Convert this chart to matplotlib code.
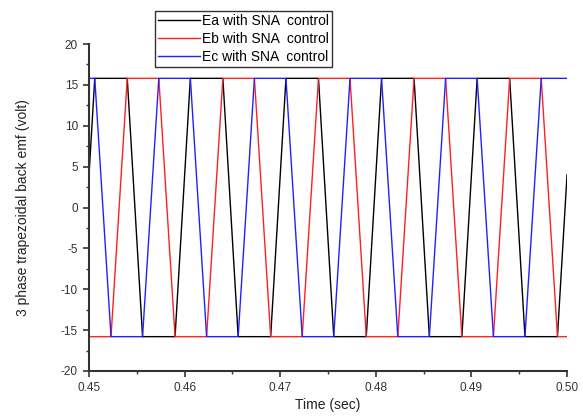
import matplotlib
matplotlib.use('Agg')
import matplotlib.pyplot as plt
from matplotlib.ticker import MultipleLocator, FormatStrFormatter

plt.rcParams['font.family'] = ['Liberation Sans', 'DejaVu Sans']
plt.rcParams['axes.unicode_minus'] = False

# ── Data: corner points of the three trapezoidal back emf waveforms ─────────
t_a = [0.4500, 0.4506, 0.4540, 0.4556, 0.4590, 0.4606, 0.4640, 0.4656, 0.4690,
       0.4706, 0.4740, 0.4756, 0.4790, 0.4806, 0.4840, 0.4856, 0.4890, 0.4906,
       0.4940, 0.4956, 0.4990, 0.5000]
e_a = [4.0, 15.8, 15.8, -15.8, -15.8, 15.8, 15.8, -15.8, -15.8,
       15.8, 15.8, -15.8, -15.8, 15.8, 15.8, -15.8, -15.8, 15.8,
       15.8, -15.8, -15.8, 4.0]

t_b = [0.4500, 0.4523, 0.4540, 0.4573, 0.4590, 0.4623, 0.4640, 0.4673, 0.4690,
       0.4723, 0.4740, 0.4773, 0.4790, 0.4823, 0.4840, 0.4873, 0.4890, 0.4923,
       0.4940, 0.4973, 0.4990, 0.5000]
e_b = [-15.8, -15.8, 15.8, 15.8, -15.8, -15.8, 15.8, 15.8, -15.8,
       -15.8, 15.8, 15.8, -15.8, -15.8, 15.8, 15.8, -15.8, -15.8,
       15.8, 15.8, -15.8, -15.8]

t_c = [0.4500, 0.4506, 0.4523, 0.4556, 0.4573, 0.4606, 0.4623, 0.4656, 0.4673,
       0.4706, 0.4723, 0.4756, 0.4773, 0.4806, 0.4823, 0.4856, 0.4873, 0.4906,
       0.4923, 0.4956, 0.4973, 0.5000]
e_c = [15.8, 15.8, -15.8, -15.8, 15.8, 15.8, -15.8, -15.8, 15.8,
       15.8, -15.8, -15.8, 15.8, 15.8, -15.8, -15.8, 15.8, 15.8,
       -15.8, -15.8, 15.8, 15.8]

labels = ['Ea with SNA  control', 'Eb with SNA  control', 'Ec with SNA  control']
colors = ['black', '#ff2020', '#2020ff']

# ── Figure ───────────────────────────────────────────────────────────────────
fig = plt.figure(figsize=(5.83, 4.16), dpi=100)
ax = fig.add_axes([0.1527, 0.1082, 0.8199, 0.786])

for t, e, lab, col in zip([t_a, t_b, t_c], [e_a, e_b, e_c], labels, colors):
    ax.plot(t, e, color=col, lw=1.0, label=lab)

ax.set_xlim(0.45, 0.50)
ax.set_ylim(-20, 20)
ax.xaxis.set_major_locator(MultipleLocator(0.01))
ax.xaxis.set_minor_locator(MultipleLocator(0.005))
ax.xaxis.set_major_formatter(FormatStrFormatter('%.2f'))
ax.yaxis.set_major_locator(MultipleLocator(5))
ax.yaxis.set_minor_locator(MultipleLocator(2.5))

for side in ['top', 'right']:
    ax.spines[side].set_visible(False)
for side in ['left', 'bottom']:
    ax.spines[side].set_linewidth(1.5)
    ax.spines[side].set_color('#333333')

ax.tick_params(which='major', direction='out', length=4, width=1.2,
               colors='#333333', labelsize=8.5, pad=4)
ax.tick_params(which='minor', direction='out', length=2.5, width=1.0,
               colors='#333333')

ax.set_xlabel('Time (sec)', fontsize=10, color='#222222', labelpad=3)
ax.set_ylabel('3 phase trapezoidal back emf (volt)', fontsize=10,
              color='#222222', labelpad=22)

leg = fig.legend(loc='upper left', bbox_to_anchor=(0.266, 0.974),
                 fontsize=10, frameon=True, fancybox=False, handlelength=3.0,
                 handletextpad=0.2, borderpad=0.2, labelspacing=0.3,
                 borderaxespad=0)
leg.get_frame().set_edgecolor('black')
leg.get_frame().set_linewidth(1.0)

plt.savefig('out.png', dpi=100)
